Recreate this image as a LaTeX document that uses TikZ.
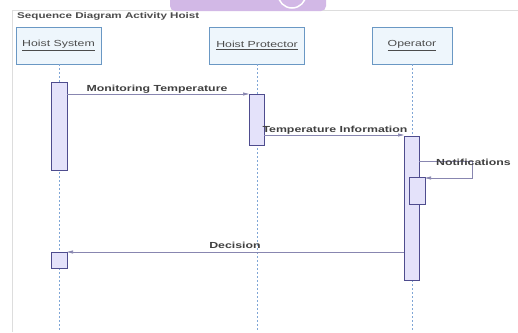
\documentclass[tikz,border=0pt]{standalone}
\usepackage{fontspec}
\setmainfont{Liberation Sans}[FakeStretch=1.4]
\usetikzlibrary{arrows.meta}
\definecolor{headfill}{HTML}{EEF6FC}
\definecolor{headdraw}{HTML}{6A98C4}
\definecolor{lifeln}{HTML}{7FA6D6}
\definecolor{actfill}{HTML}{E4E2FA}
\definecolor{actdraw}{HTML}{4E4C8E}
\definecolor{msgcol}{HTML}{8886B0}
\definecolor{tabcol}{HTML}{D2B8E6}
\definecolor{framecol}{HTML}{DDDDDD}
\tikzset{
  x=1pt, y=-1pt,
  headbox/.style={draw=headdraw, fill=headfill, line width=0.8pt, minimum width=#1, minimum height=37pt, inner sep=0pt},
  headtxt/.style={font=\fontsize{8.8}{10}\selectfont, text=black!70},
  lifeline/.style={draw=lifeln, dashed, dash pattern=on 2pt off 2pt, line width=0.6pt},
  actbar/.style={draw=actdraw, fill=actfill, line width=0.8pt, inner sep=0pt},
  msg/.style={draw=msgcol, line width=0.7pt, -{Triangle[length=6pt,width=3pt]}},
  msglbl/.style={font=\bfseries\fontsize{8.8}{10}\selectfont, text=black!75, inner sep=0pt},
}
\begin{document}
\begin{tikzpicture}
\useasboundingbox (0,0) rectangle (518,332);
\fill[white] (0,0) rectangle (518,332);
% frame
\draw[framecol, line width=0.6pt] (12,332) -- (12,10) -- (518,10);
% purple tab
\fill[tabcol, rounded corners=5pt] (170,-6) rectangle (326,11);
\draw[white, line width=1.5pt] (292,-6) circle[radius=14];
% title
\node[anchor=west, inner sep=0pt, font=\bfseries\fontsize{8.3}{10}\selectfont, text=black!70] (title) at (17,16) {Sequence Diagram Activity Hoist};
% headers
\node[headbox=85pt] (hs) at (58.5,45.5) {};
\node[headtxt] at (hs.center) {\underline{Hoist System}};
\node[headbox=95pt] (hp) at (257,45.5) {};
\node[headtxt] at (hp.center) {\underline{Hoist Protector}};
\node[headbox=80pt] (op) at (412,45.5) {};
\node[headtxt] at (op.center) {\underline{Operator}};
% lifelines
\coordinate (hsend) at (59,332);
\coordinate (hpend) at (257,332);
\coordinate (opend) at (412,332);
\draw[lifeline] (hs.south -| hsend) -- (hsend);
\draw[lifeline] (hp.south -| hpend) -- (hpend);
\draw[lifeline] (op.south -| opend) -- (opend);
% activation bars
\draw[actbar] (51,82) rectangle (67,170);
\draw[actbar] (249,94) rectangle (264,145);
\draw[actbar] (404,136) rectangle (419,280);
\draw[actbar] (409,177) rectangle (425,204);
\draw[actbar] (51,252) rectangle (67,268);
\coordinate (m1s) at (67,94);
\coordinate (m1e) at (249,94);
\coordinate (m2s) at (264,135);
\coordinate (m2e) at (404,135);
\coordinate (m3s) at (419,161);
\coordinate (m3a) at (472,161);
\coordinate (m3b) at (472,178);
\coordinate (m3e) at (425,178);
\coordinate (m4s) at (404,252);
\coordinate (m4e) at (67,252);
% messages
\draw[msg] (m1s) -- (m1e);
\draw[msg] (m2s) -- (m2e);
\draw[msg] (m3s) -- (m3a) -- (m3b) -- (m3e);
\draw[msg] (m4s) -- (m4e);
% labels
\node[msglbl, anchor=base] (l1) at (157,91) {Monitoring Temperature};
\node[msglbl, anchor=base] (l2) at (335,132) {Temperature Information};
\node[msglbl, anchor=base west] (l3) at (436,165) {Notifications};
\node[msglbl, anchor=base] (l4) at (235,248) {Decision};
\end{tikzpicture}
\end{document}
